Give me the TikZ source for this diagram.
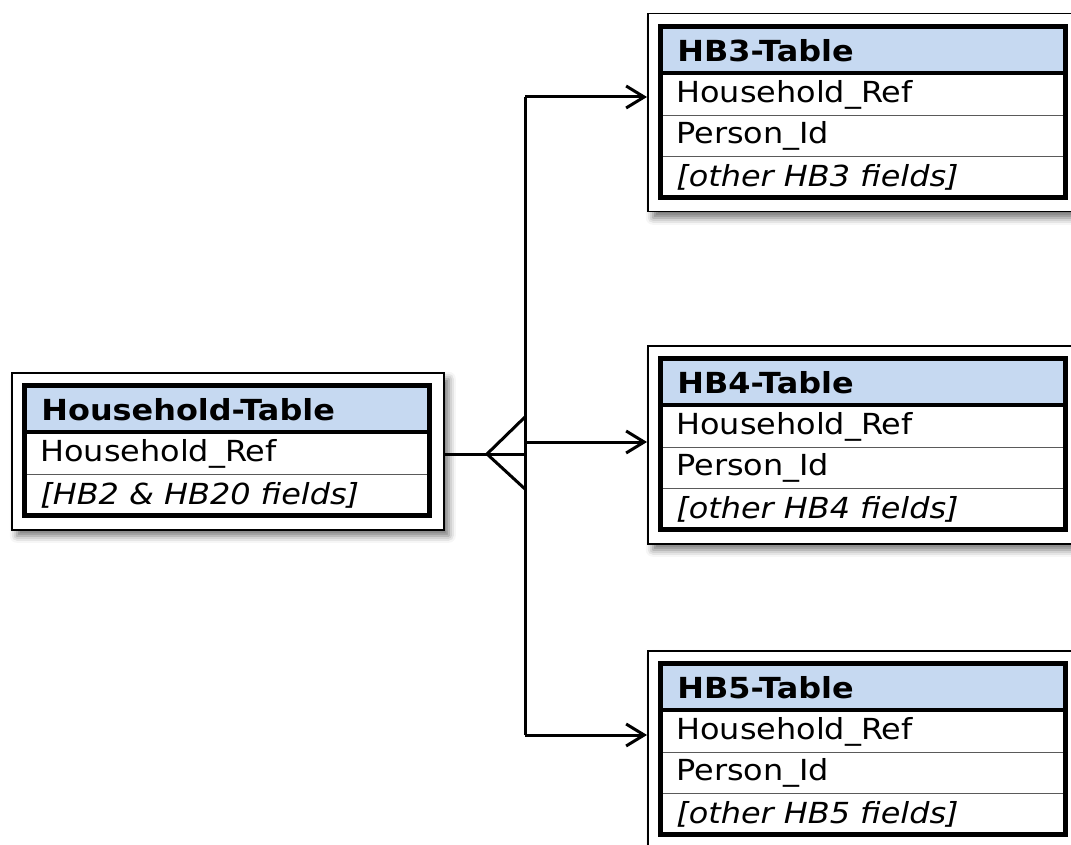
\documentclass[tikz,border=0pt]{standalone}
\usepackage{fontspec}
\setmainfont{DejaVu Sans}[FakeStretch=1.1]
\usepackage{tikz}
\usetikzlibrary{arrows.meta,shadows.blur}
\usepackage{xcolor}
\definecolor{headblue}{HTML}{C6D9F1}
\definecolor{rowgray}{HTML}{5A5A5A}

\tikzset{
  tabframe/.style={draw,line width=.75pt,fill=white,inner sep=0pt,
    minimum width=216pt,
    blur shadow={shadow xshift=2.5pt,shadow yshift=-3pt,shadow blur radius=3.5pt,shadow opacity=55}},
  tabtext/.style={anchor=west,inner sep=0pt,font=\fontsize{14.5pt}{17pt}\selectfont},
  link/.style={line width=1.5pt},
  arr/.style={-{Straight Barb[length=9pt,width=11pt,line width=1.5pt]}}
}

% \ertable{name}{x}{y}{number of rows}{title}{rows}
\newcommand{\ertable}[6]{%
  \pgfmathsetmacro{\tabh}{75+41*#4}
  \node[tabframe,minimum height=\tabh*0.5pt,anchor=north west] (#1) at (#2,#3) {};
  \fill[headblue] (#2+16,#3+16) rectangle (#2+416,#3+59);
  \foreach \k in {1,...,#4} {
    \ifnum\k<#4 \draw[rowgray,line width=.8pt] (#2+16,#3+61.5+41*\k) -- (#2+416,#3+61.5+41*\k);\fi
  }
  \draw[line width=1.6pt] (#2+16,#3+60) -- (#2+416,#3+60);
  \draw[line width=2.8pt] (#2+13.5,#3+13.5) rectangle (#2+418.5,#3+\tabh-13.5);
  \node[tabtext,font=\fontsize{14.5pt}{17pt}\selectfont\bfseries] (#1-title) at (#2+30,#3+37.5) {#5};
  \foreach \txt [count=\i] in {#6}
    \node[tabtext] (#1-row\i) at (#2+29,#3+61.5+41*\i-20.5) {\txt};
}

\begin{document}
\begin{tikzpicture}[x=0.5pt,y=-0.5pt]
\useasboundingbox (0,0) rectangle (1071,845);
\clip (0,0) rectangle (1071,845);

% tables
\ertable{hh}{11}{372}{2}{Household-Table}{Household\_Ref,{\itshape [HB2 \& HB20 fields]}}
\ertable{hb3}{647}{13}{3}{HB3-Table}{Household\_Ref,Person\_Id,{\itshape [other HB3 fields]}}
\ertable{hb4}{647}{345}{3}{HB4-Table}{Household\_Ref,Person\_Id,{\itshape [other HB4 fields]}}
\ertable{hb5}{647}{650}{3}{HB5-Table}{Household\_Ref,Person\_Id,{\itshape [other HB5 fields]}}

% one-to-many link with crow's foot
\coordinate (fork) at (525,454);
\coordinate (toe) at (487,454);
\draw[link] (hh.east |- fork) -- (fork);
\draw[link] (fork |- 0,417) -- (toe) -- (fork |- 0,489);
\draw[link] (525,97) -- (525,735);
\foreach \t/\y in {hb3/97,hb4/442,hb5/735}
  \draw[link,arr] (525,\y) -- (\t.west |- 0,\y);
\end{tikzpicture}
\end{document}
